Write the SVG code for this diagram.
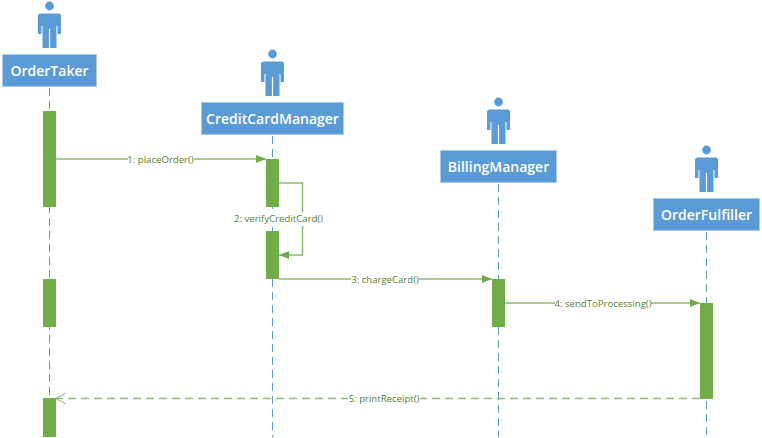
<svg xmlns="http://www.w3.org/2000/svg" xmlns:xlink="http://www.w3.org/1999/xlink" width="762" height="438" viewBox="0 0 762 438">
<style>
.box{fill:#5b9bd5;stroke:#a9cbe9;stroke-width:1}
.name{font:600 14px "Open Sans","Noto Sans",sans-serif;fill:#fff;text-anchor:middle}
.life{stroke:#5b9bd5;stroke-width:1;stroke-dasharray:8 5;fill:none}
.act{fill:#70ad47}
.msg{stroke:#8dbd6c;stroke-width:1.500;fill:none}
.dash{stroke-dasharray:8 5}
.lab{font:9.600px "Open Sans","Noto Sans",sans-serif;fill:#5a7f35;text-anchor:middle}
.bg{fill:#fff}
</style>
<defs>
<g id="person"><circle cx="0" cy="6" r="4.400" fill="#5b9bd5"/>
<path d="M-9 13.500H9Q11.500 13.500 11.500 16V34H8V26H7V48H0.600V29H-0.600V48H-7V26H-8V34H-11.500V16Q-11.500 13.500-9 13.500Z" fill="#5b9bd5"/></g>
<marker id="fill" viewBox="0 0 10 8" refX="10" refY="4" markerWidth="10" markerHeight="8" markerUnits="userSpaceOnUse" orient="auto"><path d="M0 0L10 4L0 8Z" fill="#70ad47"/></marker>
<marker id="open" viewBox="0 0 11 12" refX="10.500" refY="6" markerWidth="11" markerHeight="12" markerUnits="userSpaceOnUse" orient="auto"><path d="M.5 .5L10.500 6L.5 11.500" fill="none" stroke="#8dbd6c"/></marker>
</defs>
<g id="lifelines">
<path class="life" d="M49.500 88V437"/>
<path class="life" d="M272.500 136V437"/>
<path class="life" d="M498.500 184V437"/>
<path class="life" d="M706.500 232V437"/>
</g>
<g id="node-ordertaker"><use xlink:href="#person" href="#person" x="49.500" y="0"/><rect class="box" x="2.500" y="54.500" width="94" height="32"/><text class="name" x="49.500" y="75.500">OrderTaker</text>
<rect class="act" x="43" y="111" width="13" height="96"/><rect class="act" x="43" y="279" width="13" height="48"/><rect class="act" x="43" y="398" width="13" height="39"/></g>
<g id="node-creditcardmanager"><use xlink:href="#person" href="#person" x="272.500" y="48"/><rect class="box" x="201.500" y="102.500" width="142" height="32"/><text class="name" x="272.500" y="123.500">CreditCardManager</text>
<rect class="act" x="266" y="159" width="13" height="48"/><rect class="act" x="266" y="231" width="13" height="48"/></g>
<g id="node-billingmanager"><use xlink:href="#person" href="#person" x="498.500" y="96"/><rect class="box" x="440.500" y="150.500" width="116" height="32"/><text class="name" x="498.500" y="171.500">BillingManager</text>
<rect class="act" x="492" y="279" width="13" height="48"/></g>
<g id="node-orderfulfiller"><use xlink:href="#person" href="#person" x="706.500" y="144"/><rect class="box" x="653.500" y="198.500" width="106" height="32"/><text class="name" x="706.500" y="219.500">OrderFulfiller</text>
<rect class="act" x="700" y="303" width="13" height="96"/></g>
<g id="connectors">
<path class="msg" d="M56 159H266" marker-end="url(#fill)"/>
<path class="msg" d="M279 183H302.500V255H279" marker-end="url(#fill)"/>
<path class="msg" d="M279 279H492" marker-end="url(#fill)"/>
<path class="msg" d="M505 303H700" marker-end="url(#fill)"/>
<path class="msg dash" d="M700 398.500H56" marker-end="url(#open)"/>
<rect class="bg" x="128" y="152" width="66" height="14"/><text class="lab" x="160.500" y="162.500">1: placeOrder()</text>
<rect class="bg" x="234" y="212" width="90" height="14"/><text class="lab" x="278.500" y="222">2: verifyCreditCard()</text>
<rect class="bg" x="351" y="272" width="68" height="14"/><text class="lab" x="385" y="282.500">3: chargeCard()</text>
<rect class="bg" x="555" y="296" width="96" height="14"/><text class="lab" x="603" y="306.500">4: sendToProcessing()</text>
<rect class="bg" x="348" y="391" width="72" height="14"/><text class="lab" x="384" y="402">5: printReceipt()</text>
</g>
</svg>
